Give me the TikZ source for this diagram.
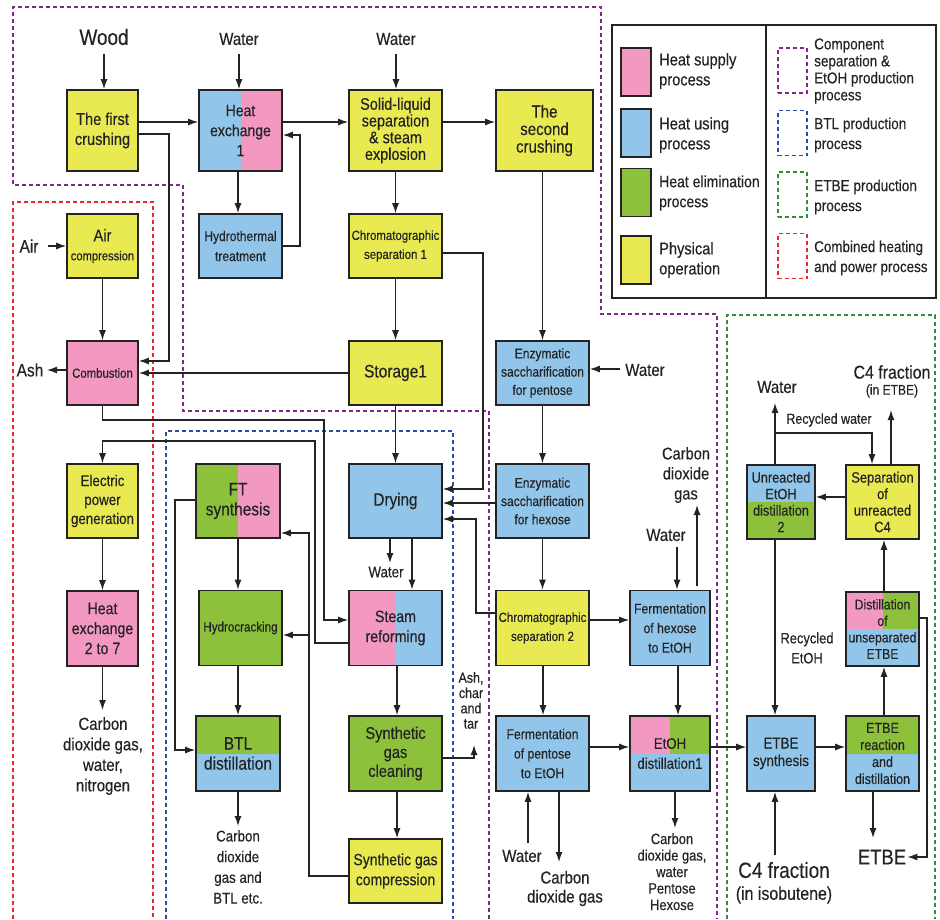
\documentclass[tikz,border=0pt]{standalone}
\usepackage{fontspec}
\setmainfont{Liberation Sans}[FakeStretch=0.86,FakeBold=0.3]
\usetikzlibrary{arrows.meta}
\definecolor{cpink}{RGB}{242,152,193}
\definecolor{cblue}{RGB}{145,198,234}
\definecolor{cgreen}{RGB}{141,193,60}
\definecolor{cyellow}{RGB}{233,233,82}
\definecolor{dpurple}{RGB}{128,40,140}
\definecolor{dblue}{RGB}{40,80,170}
\definecolor{dgreen}{RGB}{50,140,60}
\definecolor{dred}{RGB}{238,40,40}
\definecolor{ink}{RGB}{35,35,35}
\newcommand\myfs[2]{\fontsize{#1}{#2}\selectfont}
\tikzset{
  proc/.style={draw=ink, line width=1.6pt, inner sep=0pt, align=center, text=ink, font=\myfs{16}{19}},
  lbl/.style={inner sep=1pt, align=center, text=ink, font=\myfs{17.4}{20.5}},
  lr/.style 2 args={path picture={\fill[#1] (path picture bounding box.south west) rectangle (path picture bounding box.north);\fill[#2] (path picture bounding box.south) rectangle (path picture bounding box.north east);}},
  tb/.style 2 args={path picture={\fill[#1] (path picture bounding box.north west) rectangle (path picture bounding box.east);\fill[#2] (path picture bounding box.west) rectangle (path picture bounding box.south east);}},
  tlr/.style n args={3}{path picture={\fill[#1] (path picture bounding box.north west) rectangle (path picture bounding box.center);\fill[#2] (path picture bounding box.north) rectangle (path picture bounding box.east);\fill[#3] (path picture bounding box.west) rectangle (path picture bounding box.south east);}},
  arr/.style={draw=ink, line width=1.3pt, -{Latex[length=10pt,width=7pt]}},
  ln/.style={draw=ink, line width=1.3pt},
  region/.style={line width=1.2pt, dash pattern=on 4pt off 3pt},
  swatch/.style={draw=ink, line width=1.5pt, minimum width=30pt, minimum height=48pt, inner sep=0pt},
  dswatch/.style={line width=1.2pt, dash pattern=on 4pt off 3pt, minimum width=29pt, minimum height=45pt, inner sep=0pt},
  legt/.style={anchor=west, align=left, inner sep=0pt, text=ink, font=\myfs{17}{20}},
}
\begin{document}
\begin{tikzpicture}[x=1pt,y=-1pt]
\useasboundingbox (0,0) rectangle (940,919);
\fill[white] (0,0) rectangle (940,919);

% regions
\draw[region, dpurple] (489,919) -- (489,411) -- (183,411) -- (183,185) -- (13,185) -- (13,7) -- (601,7) -- (601,314) -- (717,314) -- (717,919);
\draw[region, dred] (13,919) -- (13,202) -- (153,202) -- (153,919);
\draw[region, dblue] (166,919) -- (166,431) -- (453,431) -- (453,919);
\draw[region, dgreen] (727,919) -- (727,315) -- (935,315) -- (935,919);

% legend
\draw[ink, line width=1.4pt] (612,25) rectangle (936,298);
\draw[ink, line width=1.4pt] (766,25) -- (766,298);
\node[swatch, fill=cpink] (sw1) at (636,72) {};
\node[swatch, fill=cblue] (sw2) at (636,133) {};
\node[swatch, fill=cgreen] (sw3) at (636,192.5) {};
\node[swatch, fill=cyellow] (sw4) at (636,260) {};
\node[legt] (lt1) at (659,71) {Heat supply\\process};
\node[legt] (lt2) at (659,135) {Heat using\\process};
\node[legt, font=\myfs{16.3}{20}] (lt3) at (659,193) {Heat elimination\\process};
\node[legt] (lt4) at (659,260) {Physical\\operation};
\node[dswatch, draw=dpurple] (ds1) at (792.5,70.5) {};
\node[dswatch, draw=dblue] (ds2) at (792.5,133) {};
\node[dswatch, draw=dgreen] (ds3) at (792.5,194.5) {};
\node[dswatch, draw=dred] (ds4) at (792.5,256) {};
\node[legt, font=\myfs{15.7}{17}] (rt1) at (814,71) {Component\\separation \&\\EtOH production\\process};
\node[legt, font=\myfs{15.8}{20}] (rt2) at (814,135) {BTL production\\process};
\node[legt, font=\myfs{15.8}{20}] (rt3) at (814,197) {ETBE production\\process};
\node[legt, font=\myfs{15.6}{20}] (rt4) at (814,258) {Combined heating\\and power process};

% process boxes
\node[proc, fill=cyellow, minimum width=71pt, minimum height=81pt, font=\myfs{17}{20}] (fc) at (102.5,130.5) {The first\\crushing};
\node[proc, lr={cblue}{cpink}, minimum width=83pt, minimum height=81pt, font=\myfs{16.3}{20}] (hx1) at (240.5,130.5) {Heat\\exchange\\1};
\node[proc, fill=cyellow, minimum width=93pt, minimum height=81pt, font=\myfs{16.8}{16.7}] (slsep) at (395.5,130.5) {Solid-liquid\\separation\\\& steam\\explosion};
\node[proc, fill=cyellow, minimum width=97pt, minimum height=81pt, font=\myfs{17.5}{17.5}] (sc) at (544.5,130.5) {The\\second\\crushing};

\node[proc, fill=cyellow, minimum width=71pt, minimum height=64pt, font=\myfs{17}{20}] (aircomp) at (102.5,246) {Air\\[-1pt]{\myfs{13}{16}compression}};
\node[proc, fill=cblue, minimum width=83pt, minimum height=64pt, font=\myfs{14}{20}] (hydro) at (240.5,246) {Hydrothermal\\treatment};
\node[proc, fill=cyellow, minimum width=93pt, minimum height=64pt, font=\myfs{13.3}{19}] (chrom1) at (395.5,246) {Chromatographic\\separation 1};

\node[proc, fill=cpink, minimum width=71pt, minimum height=64pt, font=\myfs{13.2}{16}] (comb) at (102.5,373) {Combustion};
\node[proc, fill=cyellow, minimum width=93pt, minimum height=64pt, font=\myfs{18}{20}] (stor) at (395.5,373) {Storage1};
\node[proc, fill=cblue, minimum width=93pt, minimum height=64pt, font=\myfs{14}{18.3}] (enzp) at (542.5,373) {Enzymatic\\saccharification\\for pentose};

\node[proc, fill=cyellow, minimum width=71pt, minimum height=74pt, font=\myfs{15.5}{19}] (epg) at (102.5,501) {Electric\\power\\generation};
\node[proc, lr={cgreen}{cpink}, minimum width=84pt, minimum height=74pt, font=\myfs{18}{20}] (ft) at (238,501) {FT\\synthesis};
\node[proc, fill=cblue, minimum width=93pt, minimum height=74pt, font=\myfs{17.7}{20}] (dry) at (395.5,501) {Drying};
\node[proc, fill=cblue, minimum width=93pt, minimum height=74pt, font=\myfs{14}{18.3}] (enzh) at (542.5,501) {Enzymatic\\saccharification\\for hexose};
\node[proc, tb={cblue}{cgreen}, minimum width=68pt, minimum height=74pt, font=\myfs{14.8}{16.5}] (ued2) at (781,502) {Unreacted\\EtOH\\distillation\\2};
\node[proc, fill=cyellow, minimum width=73pt, minimum height=74pt, font=\myfs{15}{16.5}] (suc4) at (882.5,502) {Separation\\of\\unreacted\\C4};

\node[proc, fill=cpink, minimum width=71pt, minimum height=75pt, font=\myfs{16.5}{20}] (hx2) at (102.5,628.5) {Heat\\exchange\\2 to 7};
\node[proc, fill=cgreen, minimum width=83pt, minimum height=75pt, font=\myfs{13.5}{16}] (hcr) at (240.5,628) {Hydrocracking};
\node[proc, lr={cpink}{cblue}, minimum width=93pt, minimum height=75pt, font=\myfs{16.5}{20}] (sr) at (395.5,628) {Steam\\reforming};
\node[proc, fill=cyellow, minimum width=93pt, minimum height=75pt, font=\myfs{13.3}{19}] (chrom2) at (542.5,628) {Chromatographic\\separation 2};
\node[proc, fill=cblue, minimum width=80pt, minimum height=75pt, font=\myfs{14.2}{19.5}] (fermh) at (670,628) {Fermentation\\of hexose\\to EtOH};
\node[proc, tlr={cpink}{cgreen}{cblue}, minimum width=73pt, minimum height=74pt, font=\myfs{14.2}{16.5}] (due) at (882.5,629) {Distillation\\of\\unseparated\\ETBE};

\node[proc, tb={cgreen}{cblue}, minimum width=84pt, minimum height=75pt, font=\myfs{18}{20}] (btl) at (238,753.5) {BTL\\distillation};
\node[proc, fill=cgreen, minimum width=93pt, minimum height=75pt, font=\myfs{17}{19}] (sgc) at (395.5,753.5) {Synthetic\\gas\\cleaning};
\node[proc, fill=cblue, minimum width=93pt, minimum height=75pt, font=\myfs{14.2}{19.5}] (fermp) at (542.5,753.5) {Fermentation\\of pentose\\to EtOH};
\node[proc, tlr={cpink}{cgreen}{cblue}, minimum width=80pt, minimum height=75pt, font=\myfs{15.3}{20}] (ed1) at (670,753.5) {EtOH\\distillation1};
\node[proc, fill=cblue, minimum width=68pt, minimum height=75pt, font=\myfs{15.6}{17.5}] (etbes) at (781,753.5) {ETBE\\synthesis};
\node[proc, tb={cgreen}{cblue}, minimum width=73pt, minimum height=75pt, font=\myfs{14.6}{17}] (etber) at (882.5,753.5) {ETBE\\reaction\\and\\distillation};

\node[proc, fill=cyellow, minimum width=93pt, minimum height=64pt, font=\myfs{16.3}{20}] (sgcomp) at (395.5,871) {Synthetic gas\\compression};

% outside labels
\node[lbl, font=\myfs{22}{26}] (wood) at (104,37) {Wood};
\node[lbl] (w1) at (239,39) {Water};
\node[lbl] (w2) at (396,39) {Water};
\node[lbl, font=\myfs{18}{20}] (air) at (29,246) {Air};
\node[lbl, font=\myfs{18}{20}] (ash) at (30,370) {Ash};
\node[lbl] (wE) at (645,370) {Water};
\node[lbl, font=\myfs{15.5}{18}] (wD) at (386,572) {Water};
\node[lbl, anchor=north] (hx2out) at (103,716) {Carbon\\dioxide gas,\\water,\\nitrogen};
\node[lbl, anchor=north, font=\myfs{15.5}{20.7}] (btlout) at (238,829) {Carbon\\dioxide\\gas and\\BTL etc.};
\node[lbl, anchor=north, font=\myfs{14.5}{15.3}] (ashtar) at (471,671) {Ash,\\char\\and\\tar};
\node[lbl] (wF) at (522,856) {Water};
\node[lbl, font=\myfs{17.4}{19}] (cdgP) at (565,888.5) {Carbon\\dioxide gas};
\node[lbl] (wH) at (666,535) {Water};
\node[lbl, font=\myfs{17}{20}] (cdgH) at (686,475) {Carbon\\dioxide\\gas};
\node[lbl, anchor=north, font=\myfs{15}{16.5}] (ed1out) at (672,832) {Carbon\\dioxide gas,\\water\\Pentose\\Hexose};
\node[lbl, font=\myfs{22}{26}] (c4in) at (784,870) {C4 fraction};
\node[lbl, font=\myfs{18.5}{22}] (c4inb) at (784,895) {(in isobutene)};
\node[lbl, font=\myfs{21.5}{26}] (etbe) at (882,857) {ETBE};
\node[lbl] (wU) at (777,387) {Water};
\node[lbl, font=\myfs{14.5}{16}] (recw) at (829,420) {Recycled water};
\node[lbl, font=\myfs{18.5}{20}] (c4out) at (892,372) {C4 fraction};
\node[lbl, font=\myfs{14}{16}] (c4outb) at (892,391) {(in ETBE)};
\node[lbl, font=\myfs{15}{20}] (recE) at (807,648) {Recycled\\EtOH};

% connectors
\draw[arr] (wood.south |- 0,54) -- (wood.south |- fc.north);
\draw[arr] (w1.south |- 0,54) -- (w1.south |- hx1.north);
\draw[arr] (w2.south |- 0,54) -- (w2.south |- slsep.north);
\draw[arr] (fc.east |- 0,122) -- (hx1.west |- 0,122);
\draw[arr] (fc.east |- 0,134) -- (169,134) -- (169,361) -- (comb.east |- 0,361);
\draw[arr] (hx1.east |- 0,122) -- (slsep.west |- 0,122);
\draw[arr] (hx1.south -| 238,0) -- (hydro.north -| 238,0);
\draw[arr] (hydro.east) -- (300,246) -- (300,135) -- (hx1.east |- 0,135);
\draw[arr] (slsep.east |- 0,122) -- (sc.west |- 0,122);
\draw[arr] (slsep.south) -- (chrom1.north);
\draw[arr] (chrom1.east |- 0,253) -- (483,253) -- (483,489) -- (dry.east |- 0,489);
\draw[arr] (sc.south -| enzp.north) -- (enzp.north);
\draw[arr] (chrom1.south) -- (stor.north);
\draw[arr] (stor.west) -- (comb.east |- stor.west);
\draw[arr] (48,246) -- (aircomp.west);
\draw[arr] (aircomp.south) -- (comb.north);
\draw[arr] (comb.west |- 0,370) -- (47,370);
\draw[arr] (comb.south) -- (comb.south |- 0,420) -- (324,420) -- (324,620) -- (sr.west |- 0,620);
\draw[arr] (sr.west |- 0,643) -- (315,643) -- (315,441) -- (epg.north |- 0,441) -- (epg.north);
\draw[arr] (sgcomp.west |- 0,876) -- (309,876) -- (309,533) -- (ft.east |- 0,533);
\draw[arr] (309,635) -- (hcr.east |- 0,635);
\draw[arr] (ft.south) -- (ft.south |- hcr.north);
\draw[arr] (btl.north |- hcr.south) -- (btl.north);
\draw[arr] (ft.west |- 0,500) -- (175,500) -- (175,750) -- (btl.west |- 0,750);
\draw[arr] (btl.south) -- (btl.south |- 0,826);
\draw[arr] (epg.south) -- (hx2.north);
\draw[arr] (hx2.south) -- (hx2.south |- 0,710);
\draw[arr] (stor.south) -- (dry.north);
\draw[arr] (enzp.south) -- (enzh.north);
\draw[arr] (620,369) -- (enzp.east |- 0,369);
\draw[arr] (enzh.west |- 0,503) -- (dry.east |- 0,503);
\draw[arr] (chrom2.west |- 0,613) -- (476,613) -- (476,519) -- (dry.east |- 0,519);
\draw[arr] (enzh.south) -- (chrom2.north);
\draw[arr] (dry.south -| 390,0) -- (390,563);
\draw[arr] (dry.south -| 412,0) -- (sr.north -| 412,0);
\draw[arr] (sr.south -| 397,0) -- (sgc.north -| 397,0);
\draw[arr] (sgc.east |- 0,758) -- (474,758) -- (474,745);
\draw[arr] (sgc.south -| 397,0) -- (sgcomp.north -| 397,0);
\draw[arr] (chrom2.south -| 543,0) -- (fermp.north -| 543,0);
\draw[arr] (chrom2.east |- 0,620) -- (fermh.west |- 0,620);
\draw[arr] (fermp.east |- 0,747) -- (ed1.west |- 0,747);
\draw[arr] (528,843) -- (fermp.south -| 528,0);
\draw[arr] (fermp.south -| 559,0) -- (559,862);
\draw[arr] (677,547) -- (fermh.north -| 677,0);
\draw[arr] (697,586) -- (697,505);
\draw[arr] (fermh.south -| 678,0) -- (ed1.north -| 678,0);
\draw[arr] (ed1.south -| 675,0) -- (675,828);
\draw[arr] (ed1.east |- 0,747) -- (etbes.west |- 0,747);
\draw[arr] (etbes.east |- 0,747) -- (etber.west |- 0,747);
\draw[arr] (775,855) -- (etbes.south -| 775,0);
\draw[arr] (etber.south -| 873,0) -- (873,838);
\draw[arr] (due.east |- 0,618) -- (927,618) -- (927,857) -- (etbe.east);
\draw[arr] (etber.north -| 884,0) -- (due.south -| 884,0);
\draw[arr] (due.north -| 884,0) -- (suc4.south -| 884,0);
\draw[arr] (suc4.west |- 0,497) -- (ued2.east |- 0,497);
\draw[arr] (ued2.north -| 775,0) -- (775,403);
\draw[arr] (775,433) -- (872,433) -- (suc4.north -| 872,0);
\draw[arr] (suc4.north -| 891,0) -- (891,410);
\draw[arr] (ued2.south -| 775,0) -- (etbes.north -| 775,0);
\end{tikzpicture}
\end{document}
